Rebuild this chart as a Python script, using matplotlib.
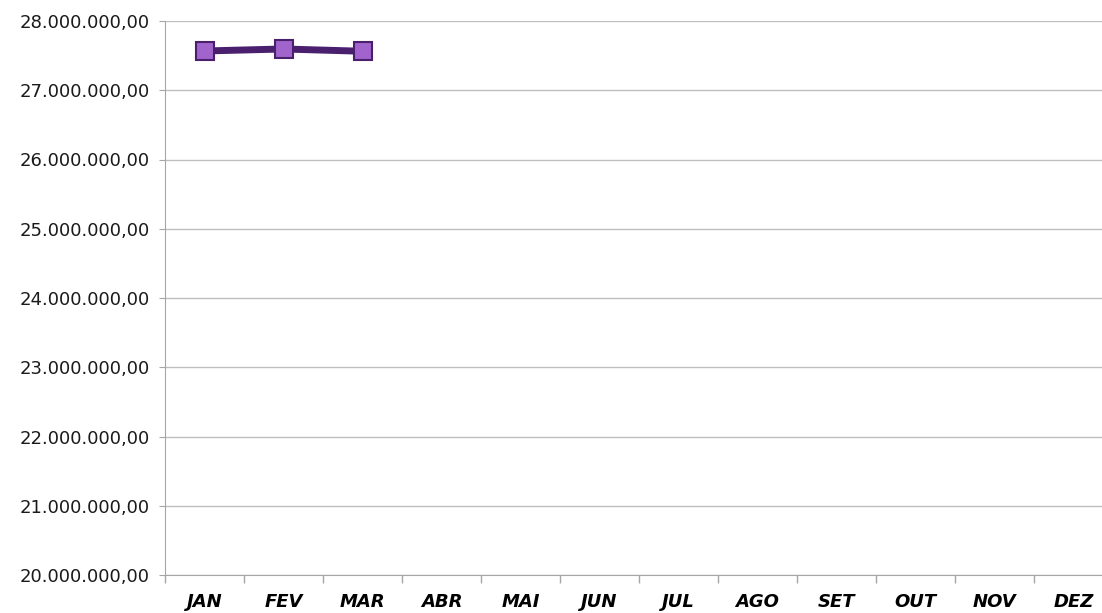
import matplotlib
matplotlib.use('Agg')
import matplotlib.pyplot as plt
from matplotlib.ticker import FuncFormatter, FixedLocator

months = ['JAN', 'FEV', 'MAR', 'ABR', 'MAI', 'JUN', 'JUL', 'AGO', 'SET', 'OUT', 'NOV', 'DEZ']
values = [27567000, 27596000, 27563000]
y_ticks = [20e6, 21e6, 22e6, 23e6, 24e6, 25e6, 26e6, 27e6, 28e6]


def br_fmt(v, pos):
    s = f"{v:,.2f}"
    return s.replace(',', 'X').replace('.', ',').replace('X', '.')


fig = plt.figure(figsize=(11.02, 6.13), dpi=100)
W, H = 1102, 613
ax = fig.add_axes([165 / W, 1 - 575 / H, (1113 - 165) / W, (575 - 21) / H])

x = list(range(len(values)))
ax.plot(x, values, color='#4A1F6E', lw=5, marker='s', markersize=13,
        markerfacecolor='#A064CC', markeredgecolor='#4A1F6E', markeredgewidth=1.5,
        zorder=3, clip_on=False)

ax.set_xlim(-0.5, len(months) - 0.5)
ax.set_ylim(20e6, 28e6)
ax.set_yticks(y_ticks)
ax.yaxis.set_major_formatter(FuncFormatter(br_fmt))
ax.set_xticks(range(len(months)))
ax.set_xticklabels(months, fontsize=13, fontweight='bold', style='italic')
ax.xaxis.set_minor_locator(FixedLocator([i - 0.5 for i in range(len(months) + 1)]))
ax.tick_params(axis='x', which='major', length=0, pad=13)
ax.tick_params(axis='x', which='minor', length=6, color='#A6A6A6', width=1)
ax.tick_params(axis='y', length=4, color='#A6A6A6', labelsize=13, pad=7)
for lbl in ax.get_yticklabels():
    lbl.set_color('#1a1a1a')

ax.grid(axis='y', color='#BFBFBF', lw=1)
ax.set_axisbelow(True)
for s in ['top', 'right']:
    ax.spines[s].set_visible(False)
ax.spines['left'].set_color('#A6A6A6')
ax.spines['bottom'].set_color('#A6A6A6')

fig.savefig('out.png', dpi=100)
